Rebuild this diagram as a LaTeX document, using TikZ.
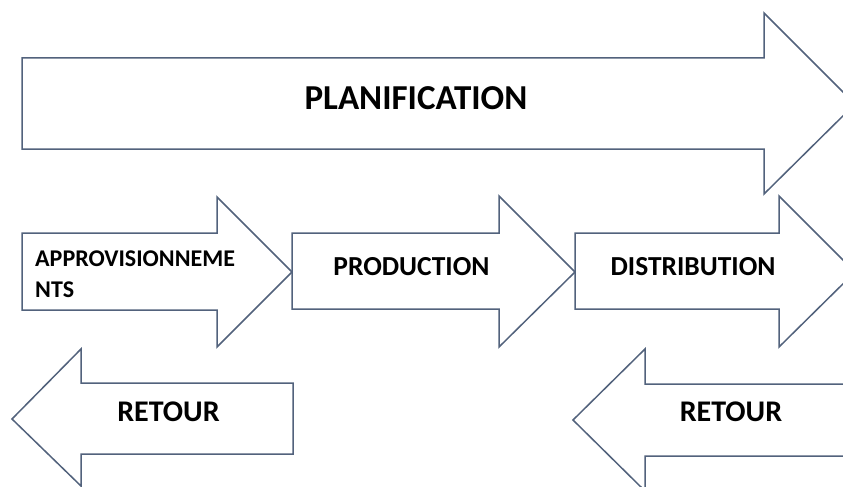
\documentclass[tikz,border=0pt]{standalone}
\usepackage{fontspec}
\setmainfont{Carlito}
\definecolor{outline}{RGB}{82,98,124}
\begin{document}
\begin{tikzpicture}[x=1pt,y=-1pt,
  flow/.style={draw=outline,line width=1.5pt,line join=miter,fill=white},
  lbl/.style={text=black,inner sep=0pt}]
\useasboundingbox (0,0) rectangle (843,487);
\begin{scope}
\clip (0,0) rectangle (843,487);
% planning arrow across the top
\draw[flow] (22,58) -- (764,58) -- (764,13) -- (855,104) -- (764,194) -- (764,149) -- (22,149) -- cycle;
% forward flow: supply, production, distribution
\draw[flow] (22,233) -- (217,233) -- (217,197) -- (292,272) -- (217,347) -- (217,310) -- (22,310) -- cycle;
\draw[flow] (292,233) -- (499,233) -- (499,196) -- (575,272) -- (499,347) -- (499,309) -- (292,309) -- cycle;
\draw[flow] (575,233) -- (779,233) -- (779,196) -- (855,272) -- (779,347) -- (779,309) -- (575,309) -- cycle;
% return arrows
\draw[flow] (293,383) -- (81,383) -- (81,349) -- (12,419) -- (81,486) -- (81,454) -- (293,454) -- cycle;
\draw[flow] (860,384) -- (645,384) -- (645,349) -- (573,420) -- (645,491) -- (645,456) -- (860,456) -- cycle;
\end{scope}
\node[lbl,font=\bfseries\fontsize{35}{40}\selectfont] (plan) at (416,98) {PLANIFICATION};
\node[lbl,font=\bfseries\fontsize{24}{31}\selectfont,anchor=north west,align=left] (appro) at (35,251) {APPROVISIONNEME\\NTS};
\node[lbl,font=\bfseries\fontsize{27.5}{32}\selectfont] (prod) at (411.5,267) {PRODUCTION};
\node[lbl,font=\bfseries\fontsize{27.5}{32}\selectfont] (dist) at (693,267) {DISTRIBUTION};
\node[lbl,font=\bfseries\fontsize{30}{34}\selectfont] (ret1) at (168.5,412) {RETOUR};
\node[lbl,font=\bfseries\fontsize{30}{34}\selectfont] (ret2) at (731,412) {RETOUR};
\end{tikzpicture}
\end{document}
